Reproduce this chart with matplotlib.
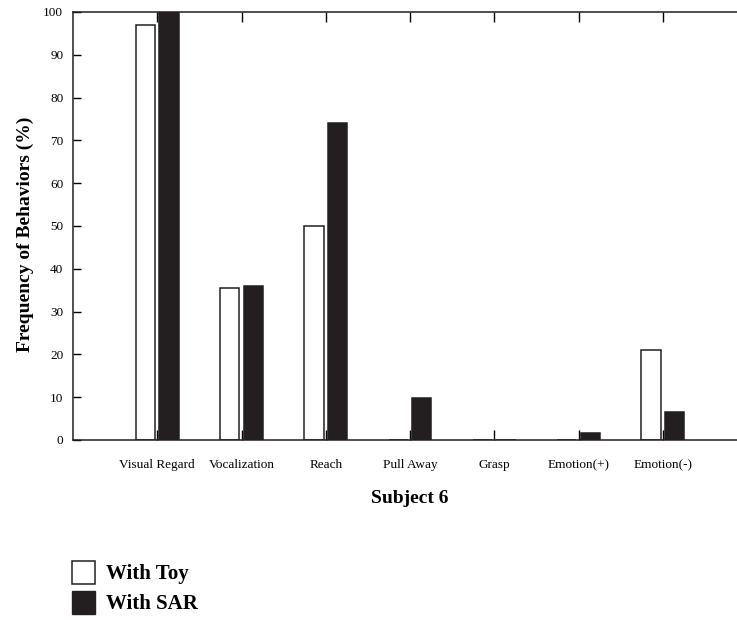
import matplotlib.pyplot as plt
from matplotlib.patches import Patch

behaviors = ['Visual Regard', 'Vocalization', 'Reach', 'Pull Away',
             'Grasp', 'Emotion(+)', 'Emotion(-)']
with_toy = [96.9, 35.5, 50.0, 0.0, 0.0, 0.0, 21.0]
with_sar = [100.0, 36.0, 74.0, 9.9, 0.0, 1.7, 6.6]
yticks = [0, 10, 20, 30, 40, 50, 60, 70, 80, 90, 100]

plt.rcParams['font.family'] = ['Liberation Serif', 'DejaVu Serif']

fig = plt.figure(figsize=(7.37, 6.2), dpi=100)
# axes runs a little past the right edge of the canvas
ax = fig.add_axes([73/737, 1 - 440/620, 674/737, 428/620])

pos = [i + 1 for i in range(len(behaviors))]
w = 0.23
ax.bar([p - 0.14 for p in pos], with_toy, w, color='white',
       edgecolor='#231f20', linewidth=1.1)
ax.bar([p + 0.14 for p in pos], with_sar, w, color='#231f20',
       edgecolor='#231f20', linewidth=1.1)

ax.set_xlim(0, 8)
ax.set_ylim(0, 100)
ax.set_xticks(pos)
ax.set_xticklabels(behaviors, fontsize=9.5)
ax.set_yticks(yticks)
ax.tick_params(axis='y', direction='in', length=6, width=1, pad=7,
               labelsize=9.5, right=False)
ax.tick_params(axis='x', direction='in', length=7, width=1, pad=14,
               top=True)
for s in ax.spines.values():
    s.set_linewidth(1.1)
    s.set_color('#231f20')
ax.spines['right'].set_visible(False)

ax.set_ylabel('Frequency of Behaviors (%)', fontsize=14,
              fontweight='bold', labelpad=7)
ax.yaxis.label.set_y(0.48)
ax.set_xlabel('Subject 6', fontsize=14, fontweight='bold', labelpad=13)

handles = [Patch(facecolor='white', edgecolor='#231f20', linewidth=1.1),
           Patch(facecolor='#231f20', edgecolor='#231f20')]
fig.legend(handles, ['With Toy', 'With SAR'], loc='upper left',
           bbox_to_anchor=(72/737, 1 - 561/620), frameon=False,
           prop={'weight': 'bold', 'size': 15}, handlelength=1.1,
           handleheight=1.3, handletextpad=0.55, labelspacing=0.32,
           borderpad=0, borderaxespad=0)

fig.savefig('out.png', dpi=100)
